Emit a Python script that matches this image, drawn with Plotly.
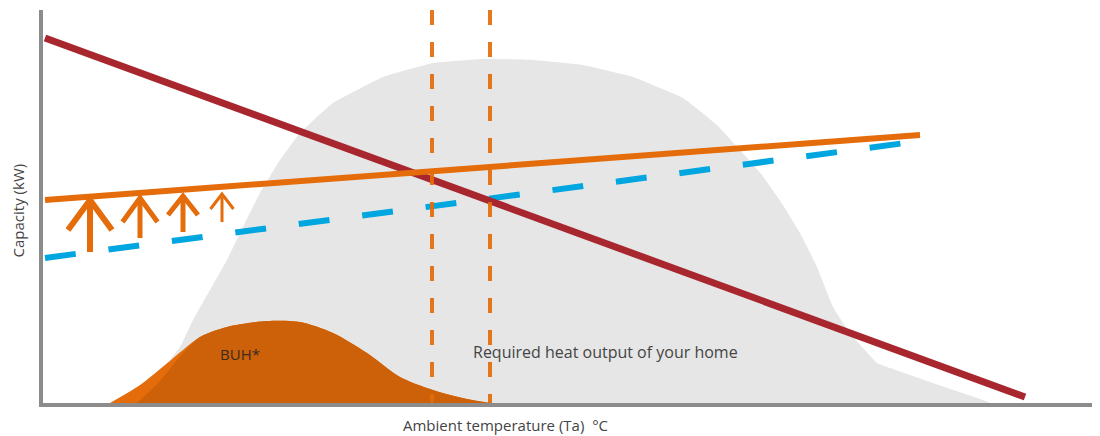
import plotly.graph_objects as go

# ---------------- data (arbitrary illustrative units) ----------------
# Required heat output of the home (grey envelope)
home_x = [9.2, 10.7, 13.7, 15.0, 16.7, 18.4, 20.0, 21.7, 23.7, 25.7, 29.0, 34.0, 39.0, 44.0,
          49.0, 54.0, 59.0, 64.0, 67.4, 69.7, 71.9, 74.0, 75.7, 77.4, 79.0, 80.7, 83.4,
          84.7, 88.7, 94.0, 94.7]
home_y = [0.0, 1.8, 5.6, 8.3, 11.3, 14.3, 17.6, 21.0, 24.3, 27.0, 30.0, 32.6, 34.0, 34.4,
          34.3, 33.8, 32.6, 30.5, 27.8, 25.3, 22.8, 19.8, 17.0, 13.6, 9.6, 7.0, 4.0,
          3.5, 2.1, 0.3, 0.0]

# Back-up heater contribution (BUH*)
buh_light_x = [6.7, 9.7, 12.2, 14.0, 15.7, 18.4, 22.4, 25.7, 29.0, 32.4, 35.7, 39.0, 42.4, 44.7]
buh_light_y = [0.0, 1.8, 3.8, 5.3, 6.6, 7.6, 8.2, 8.1, 7.0, 5.0, 2.6, 1.3, 0.4, 0.0]
buh_dark_x = [9.4, 11.7, 14.0, 15.7, 18.4, 22.4, 25.7, 29.0, 32.4, 35.7, 39.0, 42.4, 44.7]
buh_dark_y = [0.0, 2.2, 5.0, 6.6, 7.6, 8.2, 8.1, 7.0, 5.0, 2.6, 1.3, 0.4, 0.0]

# Heat-pump capacity lines
heat_load_x = [0.2, 98.2]
heat_load_y = [36.5, 0.6]
boosted_x = [0.2, 87.7]
boosted_y = [20.3, 26.8]
standard_x = [0.2, 87.7]
standard_y = [14.5, 26.2]

# Balance points (vertical markers)
balance_x = [38.9, 44.7]
y_top = 39.3
x_end = 104.9

# Boost arrows: position, base, tip, head half-width, head depth, stroke width
arrow_x = [4.7, 9.7, 14.0, 17.9]
arrow_base = [15.1, 16.5, 17.1, 18.1]
arrow_tip = [20.3, 20.5, 20.7, 20.9]
arrow_half = [2.2, 1.75, 1.5, 1.15]
arrow_depth = [3.0, 2.4, 1.9, 1.5]
arrow_width = [6, 5, 5, 3]

ORANGE = "#e46c0a"
DARK_ORANGE = "#cc6109"
RED = "#a8262e"
BLUE = "#00a6df"
GREY_FILL = "#e6e6e6"
AXIS_GREY = "#8c8c8c"
FONT = "Open Sans"

fig = go.Figure()

fig.add_trace(go.Scatter(x=home_x, y=home_y, mode="lines", fill="toself",
                         fillcolor=GREY_FILL, line=dict(width=0, shape="spline", smoothing=0.3),
                         hoverinfo="skip", showlegend=False))
fig.add_trace(go.Scatter(x=buh_light_x, y=buh_light_y, mode="lines", fill="toself",
                         fillcolor=ORANGE, line=dict(width=0, shape="spline", smoothing=0.8),
                         hoverinfo="skip", showlegend=False))
fig.add_trace(go.Scatter(x=buh_dark_x, y=buh_dark_y, mode="lines", fill="toself",
                         fillcolor=DARK_ORANGE, line=dict(width=0, shape="spline", smoothing=0.8),
                         hoverinfo="skip", showlegend=False))

fig.add_trace(go.Scatter(x=standard_x, y=standard_y, mode="lines",
                         line=dict(color=BLUE, width=6, dash="31px,33px"),
                         hoverinfo="skip", showlegend=False))
fig.add_trace(go.Scatter(x=heat_load_x, y=heat_load_y, mode="lines",
                         line=dict(color=RED, width=7),
                         hoverinfo="skip", showlegend=False))
fig.add_trace(go.Scatter(x=boosted_x, y=boosted_y, mode="lines",
                         line=dict(color=ORANGE, width=6),
                         hoverinfo="skip", showlegend=False))

for bx in balance_x:
    fig.add_trace(go.Scatter(x=[bx, bx], y=[y_top, 0], mode="lines",
                             line=dict(color=ORANGE, width=4, dash="15px,17px"),
                             opacity=0.92, hoverinfo="skip", showlegend=False))

for ax_, b, t, h, d, w in zip(arrow_x, arrow_base, arrow_tip, arrow_half, arrow_depth, arrow_width):
    xs = [ax_, ax_, None, ax_ - h, ax_, ax_ + h]
    ys = [b, t - 0.3, None, t - d, t, t - d]
    fig.add_trace(go.Scatter(x=xs, y=ys, mode="lines",
                             line=dict(color=ORANGE, width=w),
                             hoverinfo="skip", showlegend=False, connectgaps=False))

fig.add_annotation(x=19.7, y=4.9, text="BUH*", showarrow=False,
                   font=dict(family=FONT, size=15, color="#3a2a20"))
fig.add_annotation(x=56.2, y=5.1, text="Required heat output of your home", showarrow=False,
                   font=dict(family=FONT, size=16, color="#444444"))
fig.add_annotation(xref="paper", yref="paper", x=(505 - 43) / 1049, y=(403 - 425) / 393,
                   text="Ambient temperature (Ta)  °C", showarrow=False,
                   xanchor="center", yanchor="middle",
                   font=dict(family=FONT, size=15, color="#444444"))
fig.add_annotation(xref="paper", yref="paper", x=(18 - 43) / 1049, y=0.49,
                   text="Capacity (kW)", showarrow=False, textangle=-90,
                   xanchor="center", yanchor="middle",
                   font=dict(family=FONT, size=15, color="#444444"))

fig.update_layout(
    width=1100, height=436,
    margin=dict(l=43, r=8, t=10, b=33),
    paper_bgcolor="white", plot_bgcolor="white",
    xaxis=dict(range=[0, x_end], showgrid=False, zeroline=False, showticklabels=False,
               ticks="", showline=True, linecolor=AXIS_GREY, linewidth=4, fixedrange=True),
    yaxis=dict(range=[0, y_top], showgrid=False, zeroline=False, showticklabels=False,
               ticks="", showline=True, linecolor=AXIS_GREY, linewidth=4, fixedrange=True),
)

fig.write_html("out.html", config={"displayModeBar": False})

# remove the browser's default page margin so the figure fills the window
with open("out.html", encoding="utf-8") as f:
    html = f.read()
html = html.replace("<body>", '<body style="margin:0;padding:0;overflow:hidden">', 1)
with open("out.html", "w", encoding="utf-8") as f:
    f.write(html)
